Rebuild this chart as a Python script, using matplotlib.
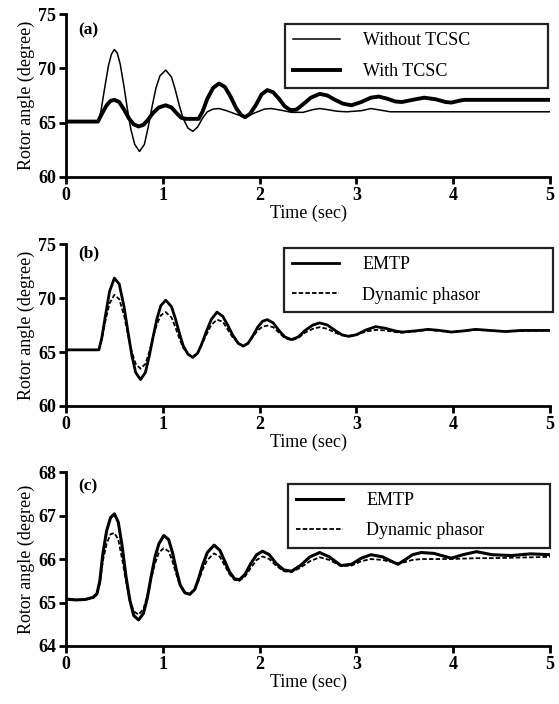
import matplotlib
matplotlib.use("Agg")
from matplotlib import pyplot as plt

plt.rcParams['font.family'] = ['Liberation Serif', 'DejaVu Serif']

# ---- panel (a): rotor angle with / without TCSC ----
t_without = [0, 0.33, 0.36, 0.40, 0.44, 0.47, 0.50, 0.53, 0.56, 0.60, 0.63, 0.67, 0.71, 0.76,
             0.81, 0.85, 0.89, 0.93, 0.97, 1.03, 1.09, 1.13, 1.17, 1.21, 1.26, 1.31, 1.36,
             1.41, 1.46, 1.52, 1.58, 1.66, 1.75, 1.85, 1.95, 2.05, 2.12, 2.22, 2.33, 2.45,
             2.55, 2.62, 2.70, 2.80, 2.90, 3.05, 3.15, 3.25, 3.35, 5.0]
a_without = [65.05, 65.05, 66.0, 68.2, 70.3, 71.3, 71.74, 71.4, 70.4, 68.3, 66.5, 64.4, 63.0, 62.35,
             63.0, 64.6, 66.5, 68.2, 69.3, 69.84, 69.2, 68.0, 66.6, 65.4, 64.5, 64.2, 64.6,
             65.4, 66.0, 66.25, 66.3, 66.1, 65.8, 65.5, 65.9, 66.25, 66.3, 66.15, 65.95, 65.95,
             66.2, 66.3, 66.2, 66.05, 66.0, 66.1, 66.3, 66.15, 66.0, 66.0]

t_with = [0, 0.33, 0.37, 0.42, 0.46, 0.50, 0.55, 0.60, 0.65, 0.70, 0.75, 0.80, 0.85, 0.90,
          0.96, 1.03, 1.09, 1.14, 1.19, 1.24, 1.37, 1.41, 1.46, 1.52, 1.58, 1.64, 1.70,
          1.76, 1.81, 1.85, 1.90, 1.96, 2.02, 2.08, 2.14, 2.20, 2.26, 2.32, 2.38, 2.45,
          2.53, 2.62, 2.70, 2.78, 2.86, 2.95, 3.05, 3.15, 3.23, 3.32, 3.40, 3.47, 3.58,
          3.70, 3.82, 3.92, 3.98, 4.08, 4.12, 5.0]
a_with = [65.1, 65.1, 65.8, 66.6, 67.0, 67.1, 66.9, 66.2, 65.4, 64.85, 64.65, 64.8, 65.3, 65.9,
          66.4, 66.6, 66.4, 65.9, 65.45, 65.35, 65.35, 66.0, 67.2, 68.2, 68.6, 68.3, 67.4,
          66.3, 65.7, 65.5, 65.8, 66.6, 67.6, 68.0, 67.8, 67.2, 66.5, 66.15, 66.2, 66.7,
          67.3, 67.65, 67.5, 67.1, 66.75, 66.6, 66.9, 67.3, 67.4, 67.2, 66.95, 66.9, 67.1,
          67.3, 67.15, 66.9, 66.85, 67.05, 67.1, 67.1]

# ---- panel (b): EMTP vs dynamic phasor ----
t_b = [0, 0.34, 0.37, 0.41, 0.45, 0.50, 0.55, 0.60, 0.64, 0.68, 0.72, 0.77, 0.82, 0.86,
       0.90, 0.94, 0.98, 1.03, 1.09, 1.13, 1.17, 1.21, 1.26, 1.31, 1.36, 1.40, 1.45, 1.50,
       1.56, 1.62, 1.67, 1.72, 1.78, 1.83, 1.88, 1.93, 1.98, 2.03, 2.08, 2.14, 2.20, 2.26,
       2.33, 2.40, 2.47, 2.55, 2.62, 2.70, 2.78, 2.85, 2.92, 3.0, 3.1, 3.2, 3.3, 3.4, 3.47,
       3.6, 3.74, 3.86, 3.98, 4.1, 4.23, 4.38, 4.54, 4.7, 5.0]
b_emtp = [65.2, 65.2, 66.3, 68.5, 70.6, 71.85, 71.3, 69.2, 66.9, 64.7, 63.1, 62.45, 63.1, 64.6,
          66.4, 68.1, 69.3, 69.8, 69.2, 68.1, 66.8, 65.6, 64.8, 64.5, 64.9, 65.7, 66.9, 68.0,
          68.7, 68.3, 67.5, 66.6, 65.8, 65.55, 65.8, 66.5, 67.3, 67.85, 68.0, 67.7, 67.0, 66.4,
          66.15, 66.4, 67.0, 67.5, 67.7, 67.5, 67.0, 66.6, 66.45, 66.6, 67.05, 67.35, 67.2, 66.95, 66.85,
          66.95, 67.1, 67.0, 66.85, 66.95, 67.1, 67.0, 66.9, 67.0, 67.0]
b_dp = [65.2, 65.2, 66.2, 68.0, 69.5, 70.3, 69.9, 68.4, 66.6, 65.0, 63.9, 63.45, 63.9, 65.0,
        66.4, 67.6, 68.4, 68.7, 68.2, 67.3, 66.3, 65.4, 64.8, 64.55, 64.9, 65.6, 66.6, 67.5,
        68.0, 67.8, 67.1, 66.4, 65.8, 65.6, 65.8, 66.4, 67.0, 67.35, 67.45, 67.3, 66.8, 66.3,
        66.1, 66.3, 66.8, 67.15, 67.3, 67.15, 66.8, 66.55, 66.5, 66.6, 66.9, 67.05, 67.0, 66.85, 66.8,
        66.9, 67.05, 66.95, 66.85, 66.95, 67.05, 67.0, 66.9, 66.95, 67.0]

# ---- panel (c): EMTP vs dynamic phasor ----
t_c = [0, 0.1, 0.2, 0.28, 0.32, 0.35, 0.38, 0.42, 0.46, 0.50, 0.54, 0.58, 0.62, 0.66, 0.70,
       0.75, 0.80, 0.84, 0.88, 0.92, 0.96, 1.01, 1.06, 1.10, 1.14, 1.18, 1.23, 1.28, 1.33,
       1.37, 1.41, 1.46, 1.53, 1.59, 1.64, 1.69, 1.74, 1.79, 1.85, 1.91, 1.97, 2.03, 2.10,
       2.17, 2.25, 2.33, 2.42, 2.52, 2.62, 2.72, 2.84, 2.95, 3.05, 3.15, 3.27, 3.38, 3.43,
       3.50, 3.58, 3.67, 3.8, 3.98, 4.1, 4.24, 4.4, 4.6, 4.8, 5.0]
c_emtp = [65.08, 65.06, 65.07, 65.12, 65.2, 65.5, 66.1, 66.65, 66.95, 67.04, 66.85, 66.3, 65.6,
          65.05, 64.7, 64.6, 64.75, 65.1, 65.6, 66.05, 66.35, 66.54, 66.45, 66.15, 65.75, 65.4,
          65.22, 65.19, 65.3, 65.55, 65.85, 66.15, 66.32, 66.2, 65.95, 65.7, 65.55, 65.52, 65.65,
          65.9, 66.1, 66.18, 66.1, 65.9, 65.75, 65.72, 65.85, 66.05, 66.15, 66.05, 65.85, 65.88,
          66.02, 66.1, 66.05, 65.93, 65.88, 65.98, 66.1, 66.15, 66.13, 66.02, 66.1, 66.17, 66.1,
          66.08, 66.12, 66.1]
c_dp = [65.08, 65.06, 65.07, 65.1, 65.18, 65.45, 65.95, 66.35, 66.57, 66.6, 66.45, 66.0, 65.5,
        65.05, 64.8, 64.72, 64.85, 65.15, 65.55, 65.9, 66.15, 66.25, 66.18, 65.95, 65.65, 65.38,
        65.22, 65.2, 65.3, 65.5, 65.75, 65.98, 66.13, 66.05, 65.85, 65.65, 65.52, 65.5, 65.6,
        65.8, 65.98, 66.06, 66.0, 65.85, 65.72, 65.7, 65.8, 65.95, 66.04, 65.98, 65.84, 65.85,
        65.95, 66.0, 65.98, 65.92, 65.9, 65.93, 65.98, 66.0, 66.0, 66.0, 66.01, 66.02, 66.02,
        66.03, 66.04, 66.05]


def style_axes(ax, ylim, yticks, tag, tag_y):
    ax.set_xlim(0, 5)
    ax.set_ylim(*ylim)
    ax.set_xticks([0, 1, 2, 3, 4, 5])
    ax.set_yticks(yticks)
    for s in ['top', 'right']:
        ax.spines[s].set_visible(False)
    for s in ['left', 'bottom']:
        ax.spines[s].set_linewidth(2)
    ax.tick_params(direction='out', length=5, width=2, labelsize=13, pad=2)
    for lab in ax.get_xticklabels() + ax.get_yticklabels():
        lab.set_fontweight('bold')
    ax.set_xlabel('Time (sec)', fontsize=13, labelpad=1)
    ax.set_ylabel('Rotor angle (degree)', fontsize=13, labelpad=2)
    ax.text(0.025, tag_y, tag, transform=ax.transAxes, fontsize=12.5, fontweight='bold',
            va='center', ha='left')


def add_legend(ax, anchor):
    # anchor = (x0, y0, width, height) in axes fraction
    leg = ax.legend(loc='upper left', bbox_to_anchor=anchor, mode='expand', fontsize=13,
                    handlelength=2.6, handletextpad=1.3, labelspacing=0.75, borderpad=0.45,
                    borderaxespad=0, fancybox=False, framealpha=1)
    leg.get_frame().set_edgecolor('#222222')
    leg.get_frame().set_linewidth(1.6)


fig = plt.figure(figsize=(5.59, 7.04), dpi=100)

ax1 = fig.add_axes([0.118, 0.7486, 0.866, 0.2315])
ax1.plot(t_without, a_without, color='black', lw=1.1, label='Without TCSC')
ax1.plot(t_with, a_with, color='black', lw=2.8, label='With TCSC')
style_axes(ax1, (60, 75), [60, 65, 70, 75], '(a)', 0.9)
add_legend(ax1, (0.452, 0.54, 0.544, 0.397))

ax2 = fig.add_axes([0.118, 0.4233, 0.866, 0.230])
ax2.plot(t_b, b_emtp, color='black', lw=2.0, label='EMTP')
ax2.plot(t_b, b_dp, color='black', lw=1.3, dashes=(2.5, 1.2), label='Dynamic phasor')
style_axes(ax2, (60, 75), [60, 65, 70, 75], '(b)', 0.94)
add_legend(ax2, (0.45, 0.58, 0.557, 0.395))

ax3 = fig.add_axes([0.118, 0.0824, 0.866, 0.247])
ax3.plot(t_c, c_emtp, color='black', lw=2.2, label='EMTP')
ax3.plot(t_c, c_dp, color='black', lw=1.3, dashes=(2.5, 1.2), label='Dynamic phasor')
style_axes(ax3, (64, 68), [64, 65, 66, 67, 68], '(c)', 0.92)
add_legend(ax3, (0.458, 0.57, 0.542, 0.363))

fig.savefig('out.png', dpi=100)
